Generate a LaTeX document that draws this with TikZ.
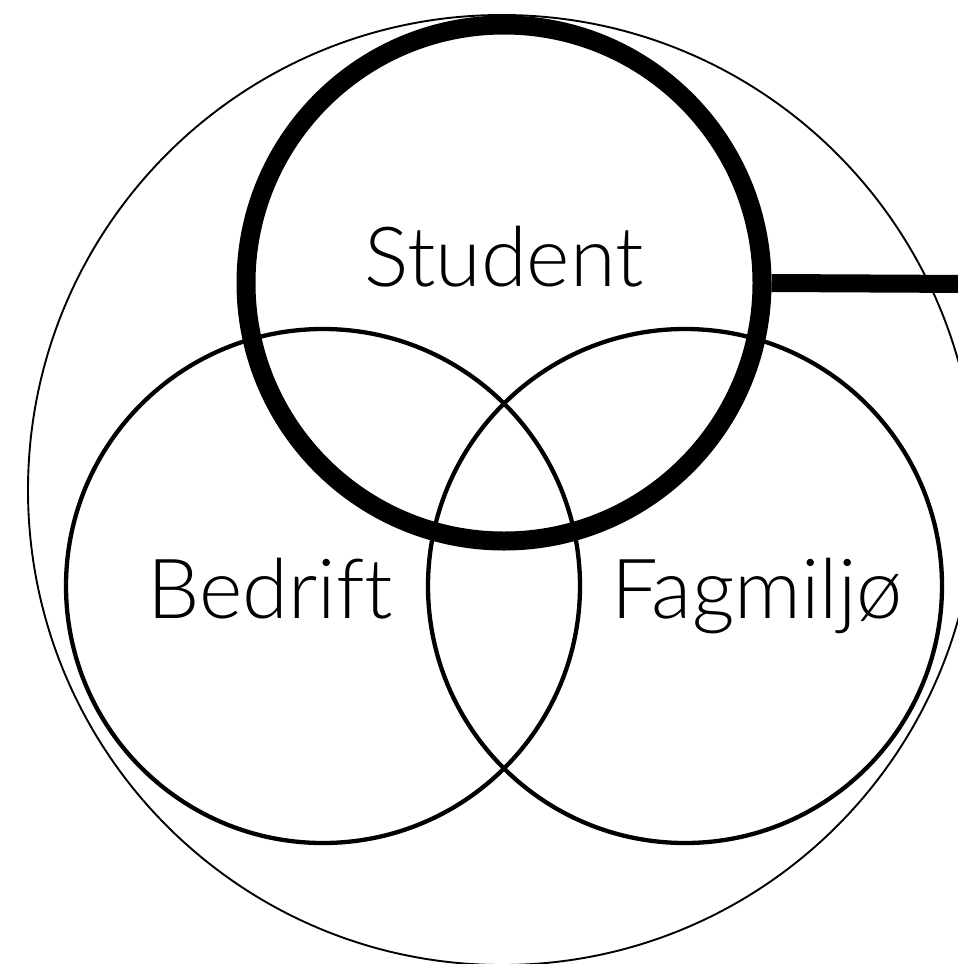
\documentclass[tikz,border=0pt]{standalone}
\usepackage{fontspec}
\IfFontExistsTF{Lato Light}{\newfontfamily\lblfont[Ligatures=NoCommon]{Lato Light}}{\newfontfamily\lblfont[Ligatures=NoCommon]{TeX Gyre Heros}}
\tikzset{
  ring/.style={circle, draw=black, line width=4.3pt, minimum size=514pt, inner sep=0pt},
  thickring/.style={circle, draw=black, line width=19pt, minimum size=516pt, inner sep=0pt},
  lbl/.style={font=\lblfont\fontsize{83}{90}\selectfont, inner sep=0pt, anchor=base},
}
\begin{document}
\begin{tikzpicture}[x=1pt,y=-1pt]
\useasboundingbox (0,0) rectangle (958,964);
\begin{scope}
\clip (0,0) rectangle (958,964);
\draw[line width=1.9pt] (502,490) ellipse [x radius=474pt, y radius=475pt];
\node[ring] (bed) at (323,586) {};
\node[ring] (fag) at (685,586) {};
\node[thickring] (stu) at (504,283) {};
\coordinate (edge) at (970,284);
\draw[line width=18pt] (stu.east) -- (edge);
\end{scope}
\node[lbl] (tstu) at (504,286) {Student};
\node[lbl] (tbed) at (270,618) {Bedrift};
\node[lbl] (tfag) at (757,618) {Fagmiljø};
\end{tikzpicture}
\end{document}
